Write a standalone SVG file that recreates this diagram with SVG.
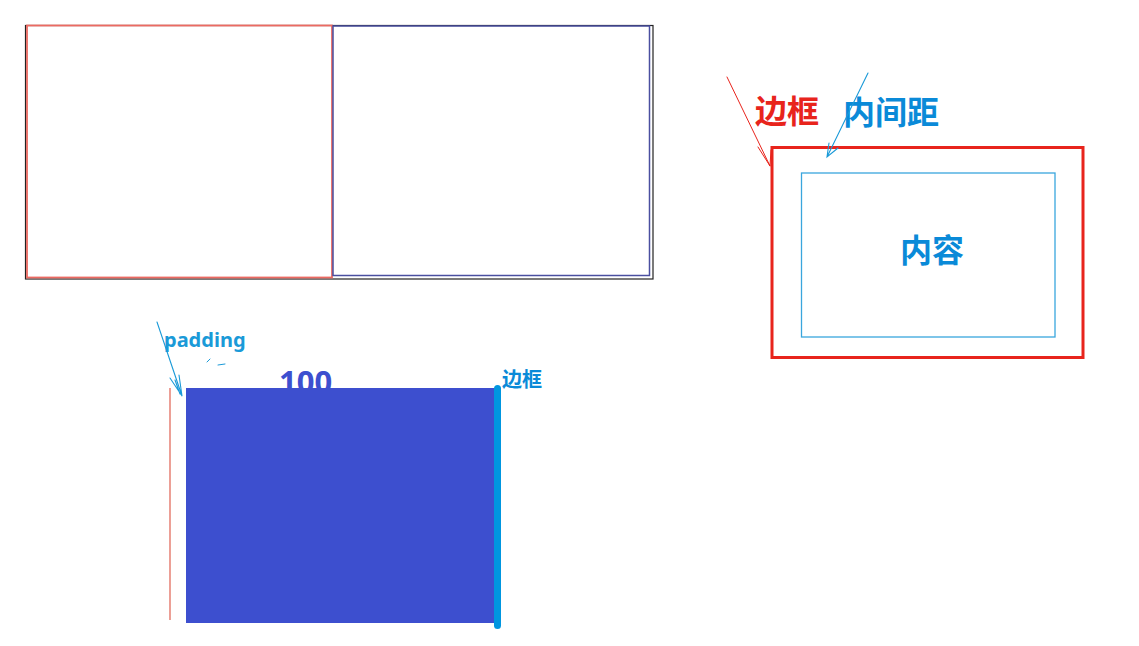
<svg xmlns="http://www.w3.org/2000/svg" width="1139" height="646" viewBox="0 0 1139 646">
<style>
.cjk{font-family:"Noto Sans CJK SC","Noto Sans",sans-serif;font-weight:bold}
.lat{font-family:"Noto Sans","Liberation Sans",sans-serif;font-weight:bold}
</style>
<rect width="1139" height="646" fill="#fff"/>
<g id="top-boxes">
  <rect x="25.5" y="25.5" width="627.5" height="253.5" fill="none" stroke="#222" stroke-width="1.2"/>
  <rect x="27" y="25.5" width="305" height="252" fill="none" stroke="#ec6a62" stroke-width="1.8"/>
  <rect x="333" y="26" width="316.5" height="249.5" fill="none" stroke="#4a4fa0" stroke-width="1.5"/>
</g>
<g id="box-model">
  <rect x="772" y="147.5" width="311" height="210" fill="none" stroke="#e8241c" stroke-width="3"/>
  <rect x="801.5" y="173" width="253.5" height="164" fill="none" stroke="#3aa6dd" stroke-width="1.3"/>
  <text x="932" y="262" class="cjk" font-size="32" fill="#0a8ad8" text-anchor="middle">内容</text>
  <text x="755" y="123" class="cjk" font-size="32" fill="#e8241c">边框</text>
  <text x="843" y="124" class="cjk" font-size="32" fill="#0a8ad8">内间距</text>
</g>
<g id="padding-demo">
  <line x1="170" y1="388" x2="170" y2="620" stroke="#e06050" stroke-width="1.2"/>
  <text x="279" y="393" class="lat" font-size="31" fill="#3d4fcf">100</text>
  <rect x="186" y="388" width="311" height="235" fill="#3d4fcf"/>
  <rect x="494" y="385" width="7" height="244" rx="3.5" fill="#0096e0"/>
  <text x="164" y="347" class="lat" font-size="20" fill="#1a9ad8">padding</text>
  <text x="502" y="387" class="cjk" font-size="20" fill="#0a8ad8">边框</text>
</g>
<g id="connectors" fill="none" stroke-linecap="round">
  <path d="M727 77 L770 166 M758 147 L770 166 L771 150" stroke="#e8241c" stroke-width="1"/>
  <path d="M868 73 L827 157 M829 143 L827 157 L838 148" stroke="#1a9ad8" stroke-width="1.1"/>
  <path d="M157 322 L182 396 M170 378 L182 396 L179 375 M175 380 L180 394" stroke="#1a9ad8" stroke-width="1.1"/>
  <path d="M207 362 L210 359 M218 365 L225 364" stroke="#1a9ad8" stroke-width="1"/>
</g>
</svg>
